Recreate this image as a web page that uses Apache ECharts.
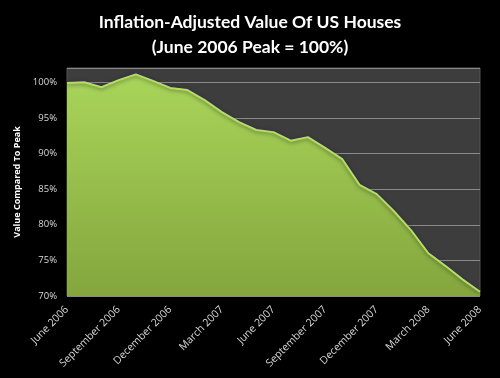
<!DOCTYPE html>
<html><head><meta charset="utf-8">
<script src="https://cdn.jsdelivr.net/npm/echarts@6/dist/echarts.min.js"></script>
<style>html,body{margin:0;padding:0;background:#000}#c{width:500px;height:378px}</style>
</head><body><div id="c"></div>
<script>
const months = ["June 2006","July 2006","August 2006","September 2006","October 2006","November 2006","December 2006","January 2007","February 2007","March 2007","April 2007","May 2007","June 2007","July 2007","August 2007","September 2007","October 2007","November 2007","December 2007","January 2008","February 2008","March 2008","April 2008","May 2008","June 2008"];
const values = [99.9,100.0,99.3,100.3,101.1,100.2,99.2,98.9,97.5,95.8,94.4,93.3,93.0,91.8,92.3,90.8,89.2,85.6,84.3,81.9,79.2,76.0,74.2,72.3,70.6];
const titleText = "Inflation-Adjusted Value Of US Houses\n(June 2006 Peak = 100%)";
const yName = "Value Compared To Peak";

const chart = echarts.init(document.getElementById('c'), null, {renderer:'canvas'});
chart.setOption({
  backgroundColor:'#000',
  animation:false,
  title:{text:titleText,left:'center',top:5,
    textStyle:{color:'#fff',fontFamily:'Lato',fontWeight:'bold',fontSize:17.5,lineHeight:25}},
  grid:{left:67,right:20,top:68,bottom:82,show:true,backgroundColor:'#3d3d3d',borderColor:'#555',borderWidth:1},
  xAxis:{type:'category',data:months,boundaryGap:false,
    axisLine:{show:false},axisTick:{show:false},
    axisLabel:{interval:2,rotate:45,color:'#d8d8d8',fontSize:10.5,fontFamily:'Open Sans',margin:12}},
  yAxis:{type:'value',min:70,max:102,interval:5,
    name:yName,nameLocation:'middle',nameGap:42,
    nameTextStyle:{color:'#fff',fontWeight:'bold',fontSize:9,fontFamily:'Open Sans'},
    axisLine:{show:false},axisTick:{show:false},
    axisLabel:{color:'#d8d8d8',fontSize:9.5,fontFamily:'Open Sans',margin:10,showMaxLabel:false,
      formatter:v=>v+'%'},
    splitLine:{lineStyle:{color:'#8a8a8a',width:1.2}}},
  series:[{type:'line',data:values,symbol:'none',
    lineStyle:{color:'#b4de62',width:2,shadowColor:'rgba(0,0,0,0.5)',shadowBlur:4,shadowOffsetY:1},
    areaStyle:{opacity:1,color:new echarts.graphic.LinearGradient(0,0,0,1,[{offset:0,color:'#a9d55a'},{offset:1,color:'#84a63d'}])}}]
});
</script></body></html>
